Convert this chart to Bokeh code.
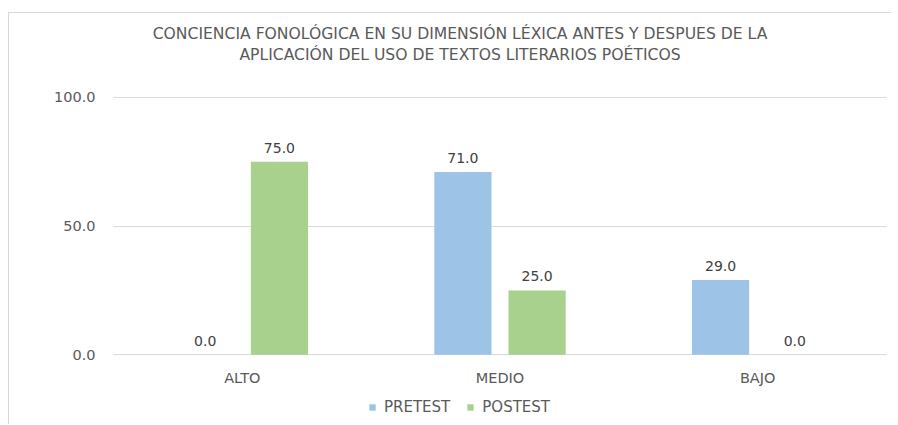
from bokeh.plotting import figure
from bokeh.layouts import column
from bokeh.models import ColumnDataSource, FactorRange, Range1d, LabelSet, Legend, LegendItem, FixedTicker
from bokeh.core.properties import value
from bokeh.transform import dodge
from bokeh.embed import file_html
from bokeh.resources import INLINE

categories = ["ALTO", "MEDIO", "BAJO"]
pretest = [0.0, 71.0, 29.0]
postest = [75.0, 25.0, 0.0]
series_names = ["PRETEST", "POSTEST"]
title_lines = ["CONCIENCIA FONOLÓGICA EN SU DIMENSIÓN LÉXICA ANTES Y DESPUES DE LA",
               "APLICACIÓN DEL USO DE TEXTOS LITERARIOS POÉTICOS"]
y_ticks = [0, 50, 100]

src = ColumnDataSource(dict(
    cat=categories, pre=pretest, post=postest,
    pre_lbl=["%.1f" % v for v in pretest],
    post_lbl=["%.1f" % v for v in postest],
))

BLUE = "#9DC3E6"
GREEN = "#A9D18E"
FONT = "DejaVu Sans"
W = 882

xr = FactorRange(*categories, range_padding=0)
p = figure(x_range=xr, y_range=Range1d(-0.3, 132.6),
           width=W, height=377, output_backend="svg", toolbar_location=None,
           min_border_left=104, min_border_right=5, min_border_top=0, min_border_bottom=35)
p.outline_line_color = None

r1 = p.vbar(x=dodge("cat", -0.144, range=xr), top="pre", width=0.222, source=src,
            fill_color=BLUE, line_color=None)
r2 = p.vbar(x=dodge("cat", 0.144, range=xr), top="post", width=0.222, source=src,
            fill_color=GREEN, line_color=None)

for col, off in (("pre", -0.144), ("post", 0.144)):
    p.add_layout(LabelSet(x=dodge("cat", off, range=xr), y=col, text=col + "_lbl", source=src,
                          y_offset=9, text_align="center", text_baseline="bottom",
                          text_font=value(FONT), text_font_size="14px", text_color="#404040"))

# chart title, positioned above the 100 gridline
tsrc = ColumnDataSource(dict(x=["MEDIO", "MEDIO"], y=[124.8, 116.3], t=title_lines))
p.text(x="x", y="y", text="t", source=tsrc, x_offset=-40, text_align="center", text_baseline="middle",
       text_font=value(FONT), text_font_size="15.6px", text_color="#595959")

p.yaxis.ticker = FixedTicker(ticks=y_ticks)
p.yaxis.major_label_overrides = {t: "%.1f" % t for t in y_ticks}
for ax in (p.xaxis, p.yaxis):
    ax.axis_line_color = None
    ax.major_tick_line_color = None
    ax.minor_tick_line_color = None
    ax.major_tick_out = 0
    ax.major_tick_in = 0
    ax.major_label_text_font = FONT
    ax.major_label_text_font_size = "14.5px"
    ax.major_label_text_color = "#595959"
p.yaxis.major_label_standoff = 18
p.xaxis.major_label_standoff = 14
p.xgrid.grid_line_color = None
p.ygrid.grid_line_color = "#d9d9d9"
p.ygrid.grid_line_width = 1

# legend strip below the chart
p2 = figure(x_range=xr, y_range=Range1d(0, 1), width=W, height=34, output_backend="svg",
            toolbar_location=None, x_axis_location=None, y_axis_location=None, min_border=0)
p2.outline_line_color = None
p2.xgrid.grid_line_color = None
p2.ygrid.grid_line_color = None
l1 = p2.vbar(x=dodge("cat", -0.144, range=xr), top="pre", width=0.222, source=src,
             fill_color=BLUE, line_color=None, visible=False)
l2 = p2.vbar(x=dodge("cat", 0.144, range=xr), top="post", width=0.222, source=src,
             fill_color=GREEN, line_color=None, visible=False)
legend = Legend(items=[LegendItem(label=series_names[0], renderers=[l1]),
                       LegendItem(label=series_names[1], renderers=[l2])],
                orientation="horizontal", location=(255, 8),
                label_text_font=FONT, label_text_font_size="15px", label_text_color="#595959",
                glyph_width=8, glyph_height=8, spacing=16, label_standoff=8,
                border_line_color=None, background_fill_alpha=0, padding=0, margin=0,
                inactive_fill_alpha=0)
p2.add_layout(legend, "center")

page = column(p, p2, spacing=0, margin=(12, 0, 0, 8),
              styles={"border-top": "1px solid #d9d9d9", "border-left": "1px solid #d9d9d9"})

open("out.html", "w").write(file_html(page, INLINE))
